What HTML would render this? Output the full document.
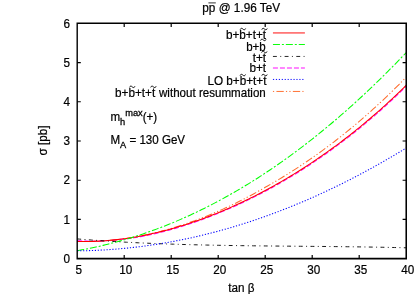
<!DOCTYPE html>
<html><head><meta charset="utf-8"><style>
html,body{margin:0;padding:0;background:#fff;}
body{width:420px;height:294px;overflow:hidden;position:relative;font-family:"Liberation Sans",sans-serif;}
</style></head><body>
<svg width="420" height="294" viewBox="0 0 420 294" style="position:absolute;left:0;top:0">
<rect width="420" height="294" fill="#fff"/>
<g fill="none" stroke-linecap="butt" stroke-linejoin="round">
<path d="M77.25,241.45 L79.60,241.50 L81.95,241.53 L84.30,241.54 L86.65,241.53 L89.00,241.50 L91.35,241.45 L93.70,241.38 L96.05,241.29 L98.40,241.19 L100.75,241.06 L103.10,240.91 L105.45,240.74 L107.80,240.56 L110.15,240.35 L112.50,240.13 L114.85,239.89 L117.20,239.63 L119.55,239.35 L121.90,239.05 L124.25,238.74 L126.60,238.39 L128.95,238.02 L131.30,237.64 L133.65,237.24 L136.00,236.82 L138.35,236.38 L140.70,235.92 L143.05,235.45 L145.40,234.96 L147.75,234.45 L150.10,233.92 L152.45,233.38 L154.80,232.82 L157.15,232.24 L159.50,231.64 L161.85,231.03 L164.20,230.40 L166.55,229.75 L168.90,229.08 L171.25,228.40 L173.60,227.70 L175.95,226.99 L178.30,226.25 L180.65,225.50 L183.00,224.74 L185.35,223.95 L187.70,223.15 L190.05,222.34 L192.40,221.50 L194.75,220.65 L197.10,219.78 L199.45,218.90 L201.80,218.00 L204.15,217.08 L206.50,216.15 L208.85,215.20 L211.20,214.23 L213.55,213.24 L215.90,212.24 L218.25,211.22 L220.60,210.19 L222.95,209.14 L225.30,208.07 L227.65,206.98 L230.00,205.88 L232.35,204.76 L234.70,203.63 L237.05,202.48 L239.40,201.31 L241.75,200.12 L244.10,198.92 L246.45,197.69 L248.80,196.46 L251.15,195.20 L253.50,193.93 L255.85,192.64 L258.20,191.33 L260.55,190.01 L262.90,188.66 L265.25,187.30 L267.60,185.98 L269.95,184.64 L272.30,183.29 L274.65,181.92 L277.00,180.53 L279.35,179.13 L281.70,177.71 L284.05,176.28 L286.40,174.83 L288.75,173.36 L291.10,171.88 L293.45,170.38 L295.80,168.86 L298.15,167.33 L300.50,165.78 L302.85,164.22 L305.20,162.63 L307.55,161.04 L309.90,159.42 L312.25,157.79 L314.60,156.14 L316.95,154.47 L319.30,152.79 L321.65,151.08 L324.00,149.36 L326.35,147.63 L328.70,145.87 L331.05,144.10 L333.40,142.31 L335.75,140.50 L338.10,138.67 L340.45,136.83 L342.80,134.96 L345.15,133.08 L347.50,131.18 L349.85,129.26 L352.20,127.32 L354.55,125.36 L356.90,123.38 L359.25,121.39 L361.60,119.37 L363.95,117.33 L366.30,115.27 L368.65,113.20 L371.00,111.10 L373.35,108.98 L375.70,106.84 L378.05,104.68 L380.40,102.50 L382.75,100.30 L385.10,98.08 L387.45,95.83 L389.80,93.56 L392.15,91.27 L394.50,88.96 L396.85,86.63 L399.20,84.27 L401.55,81.89 L403.90,79.49 L406.25,77.06" stroke="#ff6a2a" stroke-width="1.05" stroke-dasharray="7.3 2.2 1.2 2.2 1.2 2.3"/>
<path d="M77.25,240.66 L79.60,240.81 L81.95,240.94 L84.30,241.05 L86.65,241.14 L89.00,241.21 L91.35,241.26 L93.70,241.29 L96.05,241.29 L98.40,241.19 L100.75,241.06 L103.10,240.91 L105.45,240.74 L107.80,240.60 L110.15,240.43 L112.50,240.25 L114.85,240.04 L117.20,239.82 L119.55,239.59 L121.90,239.33 L124.25,239.05 L126.60,238.76 L128.95,238.45 L131.30,238.12 L133.65,237.78 L136.00,237.41 L138.35,237.03 L140.70,236.64 L143.05,236.22 L145.40,235.75 L147.75,235.27 L150.10,234.76 L152.45,234.24 L154.80,233.71 L157.15,233.15 L159.50,232.58 L161.85,232.00 L164.20,231.40 L166.55,230.78 L168.90,230.15 L171.25,229.50 L173.60,228.83 L175.95,228.15 L178.30,227.46 L180.65,226.75 L183.00,226.02 L185.35,225.28 L187.70,224.52 L190.05,223.75 L192.40,222.96 L194.75,222.16 L197.10,221.34 L199.45,220.50 L201.80,219.66 L204.15,218.79 L206.50,217.91 L208.85,217.02 L211.20,216.11 L213.55,215.19 L215.90,214.25 L218.25,213.30 L220.60,212.34 L222.95,211.36 L225.30,210.37 L227.65,209.36 L230.00,208.34 L232.35,207.30 L234.70,206.25 L237.05,205.19 L239.40,204.10 L241.75,203.01 L244.10,201.90 L246.45,200.77 L248.80,199.63 L251.15,198.48 L253.50,197.31 L255.85,196.13 L258.20,194.93 L260.55,193.71 L262.90,192.49 L265.25,191.24 L267.60,189.98 L269.95,188.71 L272.30,187.42 L274.65,186.12 L277.00,184.80 L279.35,183.46 L281.70,182.11 L284.05,180.75 L286.40,179.37 L288.75,177.97 L291.10,176.56 L293.45,175.13 L295.80,173.69 L298.15,172.23 L300.50,170.76 L302.85,169.27 L305.20,167.76 L307.55,166.24 L309.90,164.70 L312.25,163.15 L314.60,161.58 L316.95,159.99 L319.30,158.39 L321.65,156.76 L324.00,155.13 L326.35,153.47 L328.70,151.80 L331.05,150.11 L333.40,148.41 L335.75,146.69 L338.10,144.95 L340.45,143.19 L342.80,141.41 L345.15,139.62 L347.50,137.81 L349.85,135.98 L352.20,134.13 L354.55,132.27 L356.90,130.38 L359.25,128.48 L361.60,126.56 L363.95,124.62 L366.30,122.66 L368.65,120.68 L371.00,118.68 L373.35,116.66 L375.70,114.62 L378.05,112.56 L380.40,110.49 L382.75,108.39 L385.10,106.27 L387.45,104.13 L389.80,101.97 L392.15,99.79 L394.50,97.58 L396.85,95.36 L399.20,93.11 L401.55,90.85 L403.90,88.56 L406.25,86.24" stroke="#ff00ff" stroke-width="1.05" stroke-dasharray="5 2"/>
<path d="M77.25,241.45 L79.60,241.50 L81.95,241.53 L84.30,241.54 L86.65,241.53 L89.00,241.50 L91.35,241.45 L93.70,241.38 L96.05,241.29 L98.40,241.19 L100.75,241.06 L103.10,240.91 L105.45,240.74 L107.80,240.56 L110.15,240.35 L112.50,240.13 L114.85,239.89 L117.20,239.63 L119.55,239.35 L121.90,239.05 L124.25,238.74 L126.60,238.41 L128.95,238.06 L131.30,237.69 L133.65,237.30 L136.00,236.90 L138.35,236.48 L140.70,236.05 L143.05,235.59 L145.40,235.12 L147.75,234.64 L150.10,234.13 L152.45,233.61 L154.80,233.08 L157.15,232.52 L159.50,231.96 L161.85,231.37 L164.20,230.77 L166.55,230.15 L168.90,229.52 L171.25,228.87 L173.60,228.21 L175.95,227.52 L178.30,226.83 L180.65,226.12 L183.00,225.39 L185.35,224.65 L187.70,223.89 L190.05,223.12 L192.40,222.33 L194.75,221.53 L197.10,220.71 L199.45,219.88 L201.80,219.03 L204.15,218.16 L206.50,217.29 L208.85,216.39 L211.20,215.48 L213.55,214.56 L215.90,213.62 L218.25,212.67 L220.60,211.70 L222.95,210.72 L225.30,209.72 L227.65,208.71 L230.00,207.68 L232.35,206.64 L234.70,205.59 L237.05,204.52 L239.40,203.43 L241.75,202.33 L244.10,201.22 L246.45,200.09 L248.80,198.94 L251.15,197.78 L253.50,196.61 L255.85,195.42 L258.20,194.22 L260.55,193.00 L262.90,191.76 L265.25,190.51 L267.60,189.25 L269.95,187.97 L272.30,186.68 L274.65,185.37 L277.00,184.05 L279.35,182.71 L281.70,181.35 L284.05,179.98 L286.40,178.60 L288.75,177.20 L291.10,175.78 L293.45,174.35 L295.80,172.90 L298.15,171.44 L300.50,169.96 L302.85,168.46 L305.20,166.95 L307.55,165.42 L309.90,163.88 L312.25,162.32 L314.60,160.75 L316.95,159.15 L319.30,157.54 L321.65,155.92 L324.00,154.28 L326.35,152.62 L328.70,150.94 L331.05,149.25 L333.40,147.54 L335.75,145.81 L338.10,144.07 L340.45,142.30 L342.80,140.52 L345.15,138.73 L347.50,136.91 L349.85,135.08 L352.20,133.22 L354.55,131.35 L356.90,129.46 L359.25,127.56 L361.60,125.63 L363.95,123.68 L366.30,121.72 L368.65,119.73 L371.00,117.73 L373.35,115.71 L375.70,113.66 L378.05,111.60 L380.40,109.52 L382.75,107.41 L385.10,105.29 L387.45,103.15 L389.80,100.98 L392.15,98.79 L394.50,96.59 L396.85,94.36 L399.20,92.11 L401.55,89.83 L403.90,87.54 L406.25,85.22" stroke="#ff0000" stroke-width="1.05"/>
<path d="M77.25,250.65 L79.60,250.24 L81.95,249.81 L84.30,249.37 L86.65,248.92 L89.00,248.45 L91.35,247.97 L93.70,247.48 L96.05,246.97 L98.40,246.45 L100.75,245.92 L103.10,245.37 L105.45,244.80 L107.80,244.23 L110.15,243.64 L112.50,243.03 L114.85,242.41 L117.20,241.78 L119.55,241.13 L121.90,240.47 L124.25,239.80 L126.60,239.11 L128.95,238.41 L131.30,237.69 L133.65,236.96 L136.00,236.22 L138.35,235.46 L140.70,234.68 L143.05,233.90 L145.40,233.10 L147.75,232.28 L150.10,231.45 L152.45,230.61 L154.80,229.75 L157.15,228.88 L159.50,227.99 L161.85,227.09 L164.20,226.17 L166.55,225.25 L168.90,224.30 L171.25,223.34 L173.60,222.37 L175.95,221.38 L178.30,220.38 L180.65,219.37 L183.00,218.34 L185.35,217.29 L187.70,216.24 L190.05,215.16 L192.40,214.07 L194.75,212.97 L197.10,211.86 L199.45,210.73 L201.80,209.58 L204.15,208.42 L206.50,207.24 L208.85,206.06 L211.20,204.85 L213.55,203.63 L215.90,202.40 L218.25,201.15 L220.60,199.89 L222.95,198.61 L225.30,197.32 L227.65,196.01 L230.00,194.69 L232.35,193.36 L234.70,192.01 L237.05,190.64 L239.40,189.26 L241.75,187.87 L244.10,186.46 L246.45,185.03 L248.80,183.59 L251.15,182.14 L253.50,180.67 L255.85,179.19 L258.20,177.69 L260.55,176.17 L262.90,174.64 L265.25,173.10 L267.60,171.54 L269.95,169.97 L272.30,168.38 L274.65,166.78 L277.00,165.16 L279.35,163.52 L281.70,161.87 L284.05,160.21 L286.40,158.53 L288.75,156.84 L291.10,155.13 L293.45,153.40 L295.80,151.66 L298.15,149.91 L300.50,148.14 L302.85,146.36 L305.20,144.55 L307.55,142.74 L309.90,140.91 L312.25,139.06 L314.60,137.20 L316.95,135.32 L319.30,133.43 L321.65,131.53 L324.00,129.60 L326.35,127.66 L328.70,125.71 L331.05,123.74 L333.40,121.76 L335.75,119.76 L338.10,117.74 L340.45,115.71 L342.80,113.67 L345.15,111.61 L347.50,109.53 L349.85,107.44 L352.20,105.33 L354.55,103.21 L356.90,101.07 L359.25,98.91 L361.60,96.74 L363.95,94.56 L366.30,92.35 L368.65,90.14 L371.00,87.90 L373.35,85.66 L375.70,83.39 L378.05,81.11 L380.40,78.82 L382.75,76.51 L385.10,74.18 L387.45,71.84 L389.80,69.48 L392.15,67.10 L394.50,64.71 L396.85,62.31 L399.20,59.88 L401.55,57.45 L403.90,54.99 L406.25,52.52" stroke="#00ff00" stroke-width="1.05" stroke-dasharray="7 1.95 2 1.95"/>
<path d="M77.25,238.93 L79.60,239.12 L81.95,239.31 L84.30,239.49 L86.65,239.67 L89.00,239.85 L91.35,240.02 L93.70,240.19 L96.05,240.35 L98.40,240.52 L100.75,240.67 L103.10,240.83 L105.45,240.98 L107.80,241.13 L110.15,241.28 L112.50,241.42 L114.85,241.56 L117.20,241.70 L119.55,241.83 L121.90,241.96 L124.25,242.09 L126.60,242.22 L128.95,242.34 L131.30,242.46 L133.65,242.58 L136.00,242.69 L138.35,242.80 L140.70,242.91 L143.05,243.02 L145.40,243.12 L147.75,243.22 L150.10,243.32 L152.45,243.42 L154.80,243.51 L157.15,243.60 L159.50,243.69 L161.85,243.78 L164.20,243.87 L166.55,243.95 L168.90,244.03 L171.25,244.11 L173.60,244.18 L175.95,244.26 L178.30,244.33 L180.65,244.40 L183.00,244.47 L185.35,244.54 L187.70,244.60 L190.05,244.66 L192.40,244.72 L194.75,244.78 L197.10,244.84 L199.45,244.90 L201.80,244.95 L204.15,245.00 L206.50,245.05 L208.85,245.10 L211.20,245.15 L213.55,245.20 L215.90,245.24 L218.25,245.29 L220.60,245.33 L222.95,245.37 L225.30,245.41 L227.65,245.45 L230.00,245.49 L232.35,245.53 L234.70,245.56 L237.05,245.60 L239.40,245.63 L241.75,245.66 L244.10,245.69 L246.45,245.73 L248.80,245.76 L251.15,245.78 L253.50,245.81 L255.85,245.84 L258.20,245.87 L260.55,245.89 L262.90,245.92 L265.25,245.94 L267.60,245.97 L269.95,245.99 L272.30,246.01 L274.65,246.04 L277.00,246.06 L279.35,246.08 L281.70,246.10 L284.05,246.13 L286.40,246.15 L288.75,246.17 L291.10,246.19 L293.45,246.21 L295.80,246.23 L298.15,246.25 L300.50,246.27 L302.85,246.29 L305.20,246.31 L307.55,246.33 L309.90,246.35 L312.25,246.38 L314.60,246.40 L316.95,246.42 L319.30,246.44 L321.65,246.46 L324.00,246.48 L326.35,246.51 L328.70,246.53 L331.05,246.55 L333.40,246.58 L335.75,246.60 L338.10,246.63 L340.45,246.66 L342.80,246.68 L345.15,246.71 L347.50,246.74 L349.85,246.77 L352.20,246.80 L354.55,246.83 L356.90,246.86 L359.25,246.89 L361.60,246.92 L363.95,246.96 L366.30,246.99 L368.65,247.03 L371.00,247.07 L373.35,247.11 L375.70,247.15 L378.05,247.19 L380.40,247.23 L382.75,247.28 L385.10,247.32 L387.45,247.37 L389.80,247.42 L392.15,247.47 L394.50,247.52 L396.85,247.57 L399.20,247.62 L401.55,247.68 L403.90,247.74 L406.25,247.80" stroke="#000" stroke-width="0.9" stroke-dasharray="3.9 3.4 0.97 3.4"/>
<path d="M77.25,250.86 L79.60,250.83 L81.95,250.80 L84.30,250.75 L86.65,250.69 L89.00,250.63 L91.35,250.55 L93.70,250.46 L96.05,250.36 L98.40,250.25 L100.75,250.13 L103.10,250.01 L105.45,249.87 L107.80,249.72 L110.15,249.56 L112.50,249.39 L114.85,249.21 L117.20,249.02 L119.55,248.81 L121.90,248.60 L124.25,248.38 L126.60,248.15 L128.95,247.91 L131.30,247.66 L133.65,247.39 L136.00,247.12 L138.35,246.84 L140.70,246.54 L143.05,246.24 L145.40,245.93 L147.75,245.60 L150.10,245.27 L152.45,244.92 L154.80,244.57 L157.15,244.20 L159.50,243.83 L161.85,243.44 L164.20,243.05 L166.55,242.64 L168.90,242.22 L171.25,241.80 L173.60,241.36 L175.95,240.91 L178.30,240.46 L180.65,239.99 L183.00,239.51 L185.35,239.02 L187.70,238.53 L190.05,238.02 L192.40,237.50 L194.75,236.97 L197.10,236.43 L199.45,235.88 L201.80,235.32 L204.15,234.76 L206.50,234.18 L208.85,233.59 L211.20,232.99 L213.55,232.38 L215.90,231.76 L218.25,231.13 L220.60,230.49 L222.95,229.83 L225.30,229.17 L227.65,228.50 L230.00,227.82 L232.35,227.13 L234.70,226.43 L237.05,225.72 L239.40,225.00 L241.75,224.26 L244.10,223.52 L246.45,222.77 L248.80,222.01 L251.15,221.23 L253.50,220.45 L255.85,219.66 L258.20,218.86 L260.55,218.04 L262.90,217.22 L265.25,216.39 L267.60,215.54 L269.95,214.69 L272.30,213.83 L274.65,212.95 L277.00,212.07 L279.35,211.18 L281.70,210.27 L284.05,209.36 L286.40,208.43 L288.75,207.50 L291.10,206.55 L293.45,205.60 L295.80,204.64 L298.15,203.66 L300.50,202.68 L302.85,201.68 L305.20,200.68 L307.55,199.66 L309.90,198.64 L312.25,197.60 L314.60,196.56 L316.95,195.50 L319.30,194.44 L321.65,193.36 L324.00,192.28 L326.35,191.18 L328.70,190.07 L331.05,188.96 L333.40,187.83 L335.75,186.70 L338.10,185.55 L340.45,184.40 L342.80,183.23 L345.15,182.05 L347.50,180.87 L349.85,179.67 L352.20,178.47 L354.55,177.25 L356.90,176.02 L359.25,174.79 L361.60,173.54 L363.95,172.29 L366.30,171.02 L368.65,169.74 L371.00,168.46 L373.35,167.16 L375.70,165.86 L378.05,164.54 L380.40,163.21 L382.75,161.88 L385.10,160.53 L387.45,159.18 L389.80,157.81 L392.15,156.43 L394.50,155.05 L396.85,153.65 L399.20,152.25 L401.55,150.83 L403.90,149.40 L406.25,147.97" stroke="#0000ff" stroke-width="1.05" stroke-dasharray="1.2 1.73"/>
</g>
<path fill="#000" fill-rule="evenodd" d="M76.5,22.6 H407 V259.45 H76.5 Z M77.9,24 V257.8 H405.45 V24 Z"/>
<g stroke="#000" stroke-width="1.2" fill="none">
<path d="M124.20,258.7 v-3.6 M124.20,23.3 v3.6"/>
<path d="M171.20,258.7 v-3.6 M171.20,23.3 v3.6"/>
<path d="M218.20,258.7 v-3.6 M218.20,23.3 v3.6"/>
<path d="M265.20,258.7 v-3.6 M265.20,23.3 v3.6"/>
<path d="M312.20,258.7 v-3.6 M312.20,23.3 v3.6"/>
<path d="M359.20,258.7 v-3.6 M359.20,23.3 v3.6"/>
<path d="M77.2,219.47 h3.6 M406.2,219.47 h-3.6"/>
<path d="M77.2,180.23 h3.6 M406.2,180.23 h-3.6"/>
<path d="M77.2,141.00 h3.6 M406.2,141.00 h-3.6"/>
<path d="M77.2,101.77 h3.6 M406.2,101.77 h-3.6"/>
<path d="M77.2,62.53 h3.6 M406.2,62.53 h-3.6"/>
</g>
<g fill="none">
<path d="M272.95,32.95 H304.9" stroke="#ff0000" stroke-width="0.95"/>
<path d="M272.95,44.5 H304.9" stroke="#00ff00" stroke-width="0.95" stroke-dasharray="7 1.95 2 1.95"/>
<path d="M272.95,56.45 H304.9" stroke="#000" stroke-width="0.85" stroke-dasharray="3.9 3.4 0.97 3.4"/>
<path d="M272.95,68.0 H304.9" stroke="#ff00ff" stroke-width="0.95" stroke-dasharray="5 2"/>
<path d="M272.95,79.45 H304.9" stroke="#0000ff" stroke-width="0.95" stroke-dasharray="1.2 1.73"/>
<path d="M272.95,91.45 H304.9" stroke="#ff6a2a" stroke-width="0.95" stroke-dasharray="1.2 2.3 7.3 2.2 1.2 2.2"/>
</g>
<g font-family="Liberation Sans, sans-serif" font-size="12" fill="#000" stroke="#000" stroke-width="0.22" style="filter:grayscale(1)">
<text transform="translate(241.20,11.60) scale(0.98,1.0)" text-anchor="middle">pp @ 1.96 TeV</text>
<path d="M208.4,2.9 h7.4" stroke="#000" stroke-width="0.8"/>
<text transform="translate(78.70,274.40) scale(0.975,1.0)" text-anchor="middle">5</text>
<text transform="translate(125.70,274.40) scale(0.975,1.0)" text-anchor="middle">10</text>
<text transform="translate(172.70,274.40) scale(0.975,1.0)" text-anchor="middle">15</text>
<text transform="translate(219.70,274.40) scale(0.975,1.0)" text-anchor="middle">20</text>
<text transform="translate(266.70,274.40) scale(0.975,1.0)" text-anchor="middle">25</text>
<text transform="translate(313.70,274.40) scale(0.975,1.0)" text-anchor="middle">30</text>
<text transform="translate(360.70,274.40) scale(0.975,1.0)" text-anchor="middle">35</text>
<text transform="translate(407.70,274.40) scale(0.975,1.0)" text-anchor="middle">40</text>
<text transform="translate(70.00,262.90) scale(0.975,1.0)" text-anchor="end">0</text>
<text transform="translate(70.00,223.67) scale(0.975,1.0)" text-anchor="end">1</text>
<text transform="translate(70.00,184.43) scale(0.975,1.0)" text-anchor="end">2</text>
<text transform="translate(70.00,145.20) scale(0.975,1.0)" text-anchor="end">3</text>
<text transform="translate(70.00,105.97) scale(0.975,1.0)" text-anchor="end">4</text>
<text transform="translate(70.00,66.73) scale(0.975,1.0)" text-anchor="end">5</text>
<text transform="translate(70.00,27.50) scale(0.975,1.0)" text-anchor="end">6</text>
<text transform="translate(241.30,291.60) scale(0.975,1.0)" text-anchor="middle">tan β</text>
<text transform="translate(47.10,140.40) rotate(-90) scale(0.975,1.0)" text-anchor="middle">σ [pb]</text>
<text transform="translate(110.40,121.00) scale(0.965,1.0)" text-anchor="start">m<tspan font-size="9.6" stroke-width="0.3" dy="4.0">h</tspan><tspan font-size="9.6" stroke-width="0.3" dy="-9.0">max</tspan><tspan dy="5.0">(+)</tspan></text>
<text transform="translate(110.40,144.00) scale(0.965,1.0)" text-anchor="start">M<tspan font-size="9.6" stroke-width="0.3" dy="3.7">A</tspan><tspan dy="-3.7"> = 130 GeV</tspan></text>
<text transform="translate(266.10,39.00) scale(0.98,1.0)" text-anchor="end">b+b+t+t</text>
<text transform="translate(265.70,50.80) scale(0.96,1.0)" text-anchor="end">b+b</text>
<text transform="translate(266.10,62.00) scale(0.98,1.0)" text-anchor="end">t+t</text>
<text transform="translate(266.10,72.30) scale(0.98,1.0)" text-anchor="end">b+t</text>
<text transform="translate(266.40,84.80) scale(0.978,1.0)" text-anchor="end">LO b+b+t+t</text>
<text transform="translate(115.00,96.60) scale(0.98,1.0)" text-anchor="start">b+b+t+t</text>
<text transform="translate(265.80,96.60) scale(0.966,1.0)" text-anchor="end">without resummation</text>
<path d="M240.20,29.60 C240.70,28.00 242.00,28.00 242.90,29.05 S245.10,30.10 245.60,28.50" stroke="#000" stroke-width="0.95" fill="none" stroke-linecap="butt"/>
<path d="M261.80,29.60 C262.30,28.00 263.60,28.00 264.50,29.05 S266.70,30.10 267.20,28.50" stroke="#000" stroke-width="0.95" fill="none" stroke-linecap="butt"/>
<path d="M260.60,40.50 C261.10,38.90 262.40,38.90 263.30,39.95 S265.50,41.00 266.00,39.40" stroke="#000" stroke-width="0.95" fill="none" stroke-linecap="butt"/>
<path d="M261.60,52.60 C262.10,51.00 263.40,51.00 264.30,52.05 S266.50,53.10 267.00,51.50" stroke="#000" stroke-width="0.95" fill="none" stroke-linecap="butt"/>
<path d="M240.10,75.60 C240.60,74.00 241.90,74.00 242.80,75.05 S245.00,76.10 245.50,74.50" stroke="#000" stroke-width="0.95" fill="none" stroke-linecap="butt"/>
<path d="M261.80,75.60 C262.30,74.00 263.60,74.00 264.50,75.05 S266.70,76.10 267.20,74.50" stroke="#000" stroke-width="0.95" fill="none" stroke-linecap="butt"/>
<path d="M129.50,87.40 C130.00,85.80 131.30,85.80 132.20,86.85 S134.40,87.90 134.90,86.30" stroke="#000" stroke-width="0.95" fill="none" stroke-linecap="butt"/>
<path d="M150.70,87.40 C151.20,85.80 152.50,85.80 153.40,86.85 S155.60,87.90 156.10,86.30" stroke="#000" stroke-width="0.95" fill="none" stroke-linecap="butt"/>
</g>
</svg>
</body></html>
